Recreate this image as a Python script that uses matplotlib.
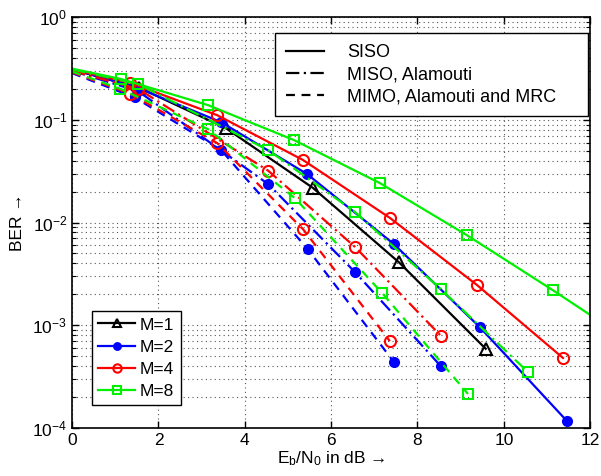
"""
BER vs Eb/N0 for SISO, MISO (Alamouti) and MIMO (Alamouti + MRC), M = 1, 2, 4, 8.
"""
import matplotlib
matplotlib.use("Agg")
import matplotlib.pyplot as plt
from matplotlib.lines import Line2D
from matplotlib.ticker import LogLocator, NullFormatter

plt.rcParams['font.family'] = ['Liberation Sans', 'DejaVu Sans']
plt.rcParams['mathtext.fontset'] = 'custom'
plt.rcParams['mathtext.rm'] = 'Liberation Sans'
plt.rcParams['mathtext.it'] = 'Liberation Sans:italic'

# ---- data (x = Eb/N0 in dB, y = BER) ----
# SISO (solid)
siso_m1_x = [0, 1.56, 3.56, 5.58, 7.57, 9.58]
siso_m1_y = [0.31, 0.205, 0.083, 0.0217, 0.0041, 0.00059]
siso_m2_x = [0, 1.45, 3.45, 5.44, 7.45, 9.44, 11.46]
siso_m2_y = [0.31, 0.21, 0.095, 0.0297, 0.00618, 0.00096, 0.000117]
siso_m4_x = [0, 1.34, 3.36, 5.35, 7.36, 9.375, 11.37]
siso_m4_y = [0.31, 0.23, 0.111, 0.0406, 0.0111, 0.00247, 0.00048]
siso_m8_x = [0, 1.13, 3.15, 5.14, 7.13, 9.14, 11.13, 12]
siso_m8_y = [0.315, 0.25, 0.139, 0.0635, 0.0242, 0.00755, 0.0022, 0.00126]

# MISO, Alamouti (dash-dot)
miso_m2_x = [0, 1.53, 4.54, 6.55, 8.54]
miso_m2_y = [0.30, 0.19, 0.0237, 0.0033, 0.0004]
miso_m4_x = [0, 1.53, 4.54, 6.55, 8.54]
miso_m4_y = [0.30, 0.20, 0.032, 0.0058, 0.00079]
miso_m8_x = [0, 1.53, 4.54, 6.55, 8.54, 10.56]
miso_m8_y = [0.31, 0.223, 0.0508, 0.0127, 0.00225, 0.00035]

# MIMO, Alamouti and MRC (dashed)
mimo_m2_x = [0, 1.45, 3.45, 5.46, 7.45]
mimo_m2_y = [0.285, 0.165, 0.0508, 0.0055, 0.00044]
mimo_m4_x = [0, 1.34, 3.36, 5.35, 7.36]
mimo_m4_y = [0.29, 0.18, 0.0594, 0.0086, 0.0007]
mimo_m8_x = [0, 1.12, 3.15, 5.16, 7.18, 9.17]
mimo_m8_y = [0.295, 0.20, 0.081, 0.0173, 0.00206, 0.000214]

m_labels = ['M=1', 'M=2', 'M=4', 'M=8']
m_colors = ['black', '#0000ff', '#ff0000', '#00f000']
m_markers = ['^', '.', 'o', 's']
style_labels = ['SISO', 'MISO, Alamouti', 'MIMO, Alamouti and MRC']

MSIZE = {'^': 8, '.': 13, 'o': 8, 's': 7}


def draw(ax, x, y, color, marker, ls):
    # first point (0 dB) and a trailing clip point carry no marker
    last = len(x) if x[-1] < 12 else len(x) - 1
    ax.plot(x, y, color=color, linestyle=ls, linewidth=1.6,
            marker=marker, markevery=list(range(1, last)),
            markersize=MSIZE[marker], markerfacecolor=color if marker == '.' else 'none',
            markeredgecolor=color, markeredgewidth=1.5)


fig = plt.figure(figsize=(6.01, 4.76), dpi=100)
ax = fig.add_axes([0.12, 0.101, 0.862, 0.863])

dashdot = (0, (6, 2, 1, 2))
dashed = (0, (4, 3))

curves = [
    (siso_m1_x, siso_m1_y, 0, '-'),
    (siso_m2_x, siso_m2_y, 1, '-'),
    (miso_m2_x, miso_m2_y, 1, dashdot),
    (mimo_m2_x, mimo_m2_y, 1, dashed),
    (siso_m4_x, siso_m4_y, 2, '-'),
    (miso_m4_x, miso_m4_y, 2, dashdot),
    (mimo_m4_x, mimo_m4_y, 2, dashed),
    (siso_m8_x, siso_m8_y, 3, '-'),
    (miso_m8_x, miso_m8_y, 3, dashdot),
    (mimo_m8_x, mimo_m8_y, 3, dashed),
]
for x, y, k, ls in curves:
    draw(ax, x, y, m_colors[k], m_markers[k], ls)

ax.set_yscale('log')
ax.set_xlim(0, 12)
ax.set_ylim(1e-4, 1)
ax.set_xticks(range(0, 13, 2))
ax.yaxis.set_major_locator(LogLocator(base=10, numticks=10))
ax.yaxis.set_minor_locator(LogLocator(base=10, subs=range(2, 10), numticks=20))
ax.yaxis.set_minor_formatter(NullFormatter())
ax.tick_params(which='both', direction='in', top=True, right=True, labelsize=12.5)
ax.tick_params(which='major', length=5, width=1)
ax.tick_params(which='minor', length=3, width=0.8)
for s in ax.spines.values():
    s.set_linewidth(1.2)
ax.grid(True, which='major', linestyle=(0, (1, 3)), color='#555555', linewidth=0.8)
ax.grid(True, which='minor', axis='y', linestyle=(0, (1, 3)), color='#555555', linewidth=0.8)

ax.set_xlabel(r'E$_\mathrm{b}$/N$_\mathrm{0}$ in dB →', fontsize=12.5, labelpad=1)
ax.set_ylabel('BER →', fontsize=12.5, labelpad=5)

# legend for transmission schemes (MATLAB-style box, wider than its text)
style_handles = [Line2D([], [], color='black', linestyle=ls, linewidth=1.6)
                 for ls in ['-', dashdot, dashed]]
leg1 = ax.legend(style_handles, style_labels, loc='upper left',
                 bbox_to_anchor=(0.392, 0.769, 0.604, 0.192), mode='expand',
                 fontsize=13, frameon=True,
                 fancybox=False, edgecolor='black', framealpha=1,
                 handlelength=2.1, labelspacing=0.28, borderpad=0.6,
                 handletextpad=1.3, borderaxespad=0)
leg1.get_frame().set_linewidth(1.0)
ax.add_artist(leg1)

# legend for modulation order
m_handles = [Line2D([], [], color=c, marker=m, linestyle='-', linewidth=1.6,
                    markersize=MSIZE[m] * 0.75,
                    markerfacecolor=c if m == '.' else 'none',
                    markeredgecolor=c, markeredgewidth=1.5)
             for c, m in zip(m_colors, m_markers)]
leg2 = ax.legend(m_handles, m_labels, loc='lower left',
                 bbox_to_anchor=(0.039, 0.056), fontsize=12.5, frameon=True,
                 fancybox=False, edgecolor='black', framealpha=1,
                 handlelength=2.1, labelspacing=0.4, borderpad=0.35,
                 handletextpad=0.3, borderaxespad=0)
leg2.get_frame().set_linewidth(1.0)

fig.savefig('out.png', dpi=100)
